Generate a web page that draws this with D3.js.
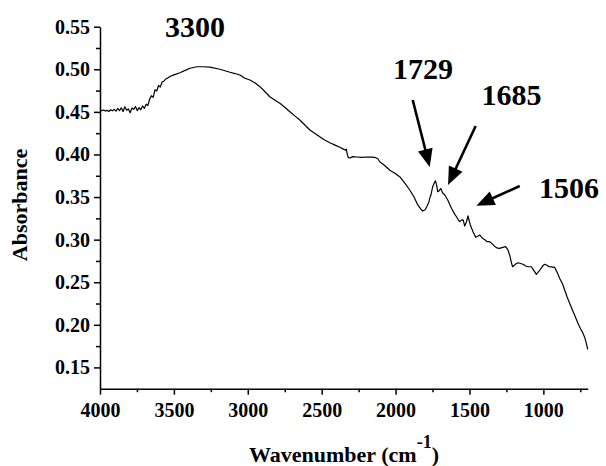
<!DOCTYPE html>
<html><head><meta charset="utf-8">
<script src="https://cdn.jsdelivr.net/npm/d3@7"></script>
<style>body{margin:0;background:#fff}svg{display:block}</style>
</head><body><svg id="c" width="606" height="466"></svg>
<script>
// ---- data ----
const wavenumber = [4000,3988,3976,3964,3952,3940,3928,3916,3904,3892,3880,3868,3856,3844,3832,3820,3808,3796,3784,3772,3760,3748,3736,3724,3712,3700,3688,3676,3664,3652,3640,3628,3616,3604,3592,3580,3568,3556,3544,3527,3500,3459,3420,3391,3344,3300,3256,3189,3120,3087,3053,3020,2986,2950,2918,2880,2851,2810,2783,2750,2715,2680,2648,2610,2580,2545,2513,2480,2445,2410,2377,2350,2340,2333,2328,2320,2310,2290,2262,2230,2195,2160,2141,2120,2107,2080,2053,2039,2005,1972,1940,1904,1875,1850,1830,1816,1800,1789,1775,1769,1760,1749,1740,1730,1722,1715,1705,1695,1690,1680,1667,1647,1622,1600,1588,1575,1566,1555,1543,1532,1520,1510,1500,1494,1476,1458,1445,1431,1411,1397,1380,1363,1345,1329,1310,1296,1275,1255,1240,1228,1215,1208,1190,1172,1155,1138,1120,1104,1081,1065,1047,1035,1020,1005,991,975,962,945,924,905,890,870,856,840,822,805,789,766,750,732,720,709,700];
const absorbance = [.4520,.4515,.4522,.4510,.4518,.4505,.4525,.4512,.4530,.4508,.4540,.4515,.4548,.4505,.4560,.4520,.4535,.4490,.4545,.4530,.4562,.4515,.4550,.4525,.4570,.4540,.4590,.4575,.4650,.4690,.4670,.4760,.4745,.4810,.4790,.4850,.4860,.4885,.4895,.4915,.4935,.4960,.4990,.5012,.5030,.5030,.5025,.5000,.4965,.4950,.4933,.4895,.4874,.4840,.4796,.4730,.4678,.4630,.4601,.4555,.4502,.4450,.4405,.4340,.4287,.4245,.4209,.4170,.4138,.4110,.4084,.4060,.4050,.4062,.4010,.3962,.3959,.3975,.3970,.3965,.3970,.3968,.3967,.3950,.3915,.3880,.3838,.3815,.3780,.3739,.3670,.3583,.3500,.3407,.3360,.3336,.3350,.3387,.3440,.3485,.3530,.3622,.3660,.3690,.3640,.3563,.3575,.3600,.3583,.3545,.3524,.3465,.3368,.3300,.3269,.3230,.3211,.3230,.3231,.3160,.3210,.3280,.3210,.3172,.3093,.3028,.3040,.3055,.3016,.3000,.2976,.2976,.2950,.2920,.2900,.2898,.2910,.2917,.2880,.2820,.2720,.2682,.2710,.2729,.2720,.2711,.2690,.2682,.2682,.2640,.2593,.2620,.2652,.2690,.2711,.2700,.2682,.2680,.2675,.2610,.2546,.2480,.2409,.2330,.2253,.2180,.2115,.2018,.1960,.1901,.1850,.1783,.1713];
const xTicks = [4000,3500,3000,2500,2000,1500,1000];
const xMinorTicks = [3750,3250,2750,2250,1750,1250,750];
const yTicks = [0.15,0.20,0.25,0.30,0.35,0.40,0.45,0.50,0.55];
const yMinorTicks = [0.175,0.225,0.275,0.325,0.375,0.425,0.475,0.525];
const peakLabels = ["3300","1729","1685","1506"];
const peakLabelAt = [[3560,0.5376],[2017,0.4882],[1419,0.4581],[1030,0.3485]];
const arrowFrom = [[1884,0.464],[1458,0.4334],[1160,0.363]];
const arrowTo = [[1769,0.3853],[1645,0.3642],[1453,0.3399]];

// ---- chart ----
const svg = d3.select("#c");
const x = d3.scaleLinear().domain([4000,700]).range([100,587.7]);
const y = d3.scaleLinear().domain([0.125,0.55]).range([388.7,26.7]);
const font = "'Liberation Serif','Times New Roman',serif";

function styleAxis(g){
  g.select(".domain").attr("stroke","#000").attr("stroke-width",1.5);
  g.selectAll(".tick line").attr("stroke","#000").attr("stroke-width",1.5);
  g.selectAll("text").attr("font-family",font).attr("font-weight","bold").attr("font-size",20).attr("fill","#000");
}

// minor ticks
svg.append("g").attr("transform","translate(0,388.7)")
  .call(d3.axisBottom(x).tickValues(xMinorTicks).tickSize(3.5).tickFormat(""))
  .call(g=>{g.select(".domain").remove();g.selectAll("line").attr("stroke","#000").attr("stroke-width",1.5);});
svg.append("g").attr("transform","translate(100,0)")
  .call(d3.axisLeft(y).tickValues(yMinorTicks).tickSize(4).tickFormat(""))
  .call(g=>{g.select(".domain").remove();g.selectAll("line").attr("stroke","#000").attr("stroke-width",1.5);});

svg.append("g").attr("transform","translate(0,388.7)")
  .call(d3.axisBottom(x).tickValues(xTicks).tickSize(6).tickSizeOuter(0).tickPadding(8).tickFormat(d3.format("d")))
  .call(styleAxis);
svg.append("g").attr("transform","translate(100,0)")
  .call(d3.axisLeft(y).tickValues(yTicks).tickSize(6).tickSizeOuter(0).tickPadding(4).tickFormat(d3.format(".2f")))
  .call(styleAxis);

// spectrum
const pts = wavenumber.map((w,i)=>[w,absorbance[i]]);
svg.append("path").datum(pts)
  .attr("fill","none").attr("stroke","#000").attr("stroke-width",1.2).attr("stroke-linejoin","round")
  .attr("d", d3.line().x(d=>x(d[0])).y(d=>y(d[1])));

// axis titles
svg.append("text").attr("transform","translate(27,205) rotate(-90)")
  .attr("text-anchor","middle").attr("font-family",font).attr("font-weight","bold").attr("font-size",22)
  .text("Absorbance");
const xl = svg.append("text").attr("x",344).attr("y",461.7)
  .attr("text-anchor","middle").attr("font-family",font).attr("font-weight","bold").attr("font-size",22);
xl.append("tspan").text("Wavenumber (cm");
xl.append("tspan").attr("dy",-14).attr("font-size",18).text("-1");
xl.append("tspan").attr("dy",14).text(")");

// peak annotations
svg.selectAll("text.peak").data(peakLabels).join("text").attr("class","peak")
  .attr("x",(d,i)=>x(peakLabelAt[i][0])).attr("y",(d,i)=>y(peakLabelAt[i][1]))
  .attr("font-family",font).attr("font-weight","bold").attr("font-size",30).text(d=>d);

// arrows
arrowFrom.forEach((f,i)=>{
  const x1=x(f[0]), y1=y(f[1]), x2=x(arrowTo[i][0]), y2=y(arrowTo[i][1]);
  const dx=x2-x1, dy=y2-y1, L=Math.hypot(dx,dy), ux=dx/L, uy=dy/L;
  const hl=18, hw=7.5;
  const bx=x2-ux*hl, by=y2-uy*hl;
  svg.append("line").attr("x1",x1).attr("y1",y1).attr("x2",bx+ux*2).attr("y2",by+uy*2)
    .attr("stroke","#000").attr("stroke-width",2.6);
  svg.append("path").attr("fill","#000")
    .attr("d",`M${x2},${y2}L${bx-uy*hw},${by+ux*hw}L${bx+uy*hw},${by-ux*hw}Z`);
});
</script></body></html>
